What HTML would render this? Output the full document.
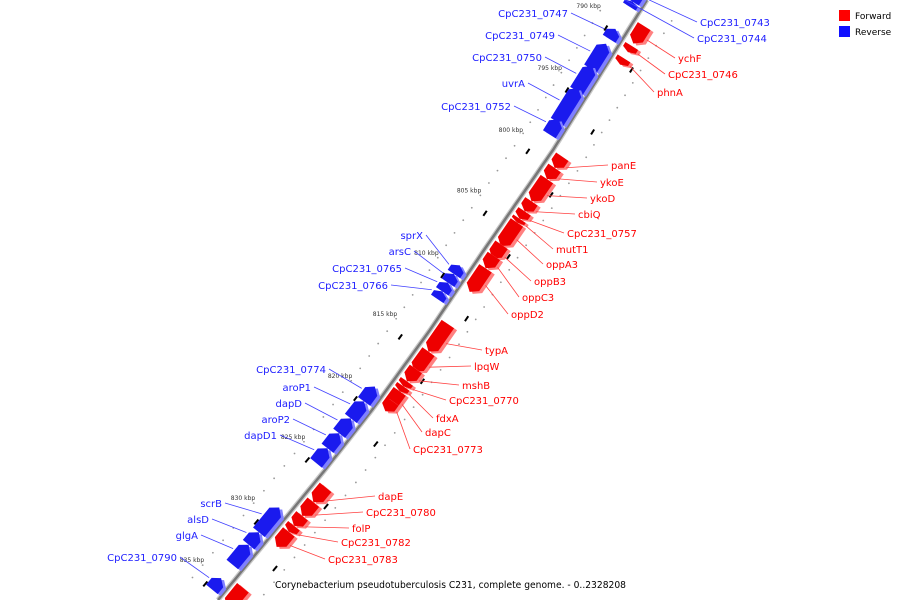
<!DOCTYPE html>
<html><head><meta charset="utf-8"><style>
html,body{margin:0;padding:0;background:#fff;width:900px;height:600px;overflow:hidden}
svg{display:block;overflow:hidden}
svg text{font-family:"DejaVu Sans","Liberation Sans",sans-serif}
</style></head><body>
<svg id="map" width="900" height="600" viewBox="0 0 900 600" xmlns="http://www.w3.org/2000/svg">
<g id="legend">
<rect x="839" y="10" width="11" height="11" fill="#ff0000"/>
<text x="855" y="19" font-size="9" fill="#000">Forward</text>
<rect x="839" y="26" width="11" height="11" fill="#1010ff"/>
<text x="855" y="35" font-size="9" fill="#000">Reverse</text>
</g>
<text x="275" y="588" font-size="9.5" textLength="351" lengthAdjust="spacingAndGlyphs" fill="#000">Corynebacterium pseudotuberculosis C231, complete genome. - 0..2328208</text>
</svg>
<script>
// Data
const geneNames=["CpC231_0743","CpC231_0744","CpC231_0747","CpC231_0749","CpC231_0750","uvrA","CpC231_0752",
"ychF","CpC231_0746","phnA",
"panE","ykoE","ykoD","cbiQ","CpC231_0757","mutT1","oppA3","oppB3","oppC3","oppD2",
"sprX","arsC","CpC231_0765","CpC231_0766",
"typA","lpqW","mshB","CpC231_0770","fdxA","dapC","CpC231_0773",
"CpC231_0774","aroP1","dapD","aroP2","dapD1",
"dapE","CpC231_0780","folP","CpC231_0782","CpC231_0783",
"scrB","alsD","glgA","CpC231_0790","next_fwd"];
const geneStart=[787.6,788.6,790.8,792.0,793.8,795.6,798.1, 789.6,791.2,792.2, 800.1,801.0,801.9,803.7,804.5,805.1,805.4,807.2,808.1,809.1, 809.9,810.6,811.3,812.0, 813.6,815.8,817.2,818.2,818.6,819.0,819.8, 819.7,820.9,822.3,823.5,824.7, 826.7,827.9,829.0,829.8,830.3, 829.5,831.5,832.5,835.2,834.8];
const geneEnd=[788.6,789.0,791.6,794.0,795.8,798.3,799.3, 791.0,791.7,792.7, 801.0,801.9,803.7,804.5,805.1,805.4,807.3,808.3,809.1,811.0, 810.6,811.3,812.0,812.6, 815.8,817.4,818.2,818.6,819.0,820.2,820.6, 820.9,822.3,823.5,824.7,825.9, 827.9,829.0,829.8,830.3,831.5, 831.5,832.5,834.1,836.1,836.4];
const geneStrand=[-1,-1,-1,-1,-1,-1,-1, 1,1,1, 1,1,1,1,1,1,1,1,1,1, -1,-1,-1,-1, 1,1,1,1,1,1,1, -1,-1,-1,-1,-1, 1,1,1,1,1, -1,-1,-1,-1,1];
const geneLabelX=[700,697,568,555,542,525,511, 678,668,657, 611,600,590,578,567,556,546,534,522,511, 423,411,402,388, 485,474,462,449,436,425,413, 326,311,302,290,277, 378,366,352,341,328, 222,209,198,177,null];
const geneLabelY=[26,42,17,39,61,87,110, 62,78,96, 169,186,202,218,237,253,268,285,301,318, 239,255,272,289, 354,370,389,404,422,436,453, 373,391,407,423,439, 500,516,532,546,563, 507,523,539,561,null];
const geneLabelAnchor=["start","start","end","end","end","end","end", "start","start","start", "start","start","start","start","start","start","start","start","start","start", "end","end","end","end", "start","start","start","start","start","start","start", "end","end","end","end","end", "start","start","start","start","start", "end","end","end","end",null];
const tickKbp=[790,795,800,805,810,815,820,825,830,835];

const svg=document.getElementById('map');
const NS='http://www.w3.org/2000/svg';
const LP=[[0,647],[150,553],[250,484],[330,430],[410,372],[470,325],[600,218]];
function yOf(k){return 25+(k-790)*12.4;}
function xOf(y){
  for(let i=0;i<LP.length-1;i++){const a=LP[i],b=LP[i+1];
    if(y<=b[0]||i===LP.length-2){const t=(y-a[0])/(b[0]-a[0]);return a[1]+t*(b[1]-a[1]);}}
}
function pt(k,off){const y=yOf(k),x=xOf(y);const dx=xOf(y+1)-x,dy=1,l=Math.hypot(dx,dy);
  const nx=dy/l,ny=-dx/l;return [x+nx*off,y+ny*off];}
function mk(tag,attrs){const e=document.createElementNS(NS,tag);for(const k in attrs)e.setAttribute(k,attrs[k]);return e;}

let d='';for(let y=0;y<=600;y+=5){d+=(y===0?'M':'L')+xOf(y).toFixed(1)+','+y+' ';}
const bb2=mk('path',{d:d,stroke:'#c8c8c8','stroke-width':5,fill:'none'});


svg.appendChild(bb2);
const bb=mk('path',{d:d,stroke:'#777','stroke-width':2.5,fill:'none'});


svg.appendChild(bb);

for(let k=788;k<=836;k+=1){
  [[-34],[32]].forEach(o=>{const p=pt(k+0.3,o[0]);
    if(p[1]<0||p[1]>600)return;
    const c=mk('circle',{cx:p[0],cy:p[1],r:0.9,fill:'#999'});
    
    
    svg.appendChild(c);});
}
tickKbp.forEach(k=>{
  const a=pt(k+0.9,-20),b=pt(k+1.3,-20);
  const l=mk('line',{x1:a[0],y1:a[1],x2:b[0],y2:b[1],stroke:'#000','stroke-width':2});
  
  
  svg.appendChild(l);
  const a2=pt(k+2.4,24),b2=pt(k+2.8,24);
  const l2=mk('line',{x1:a2[0],y1:a2[1],x2:b2[0],y2:b2[1],stroke:'#000','stroke-width':2});
  
  
  svg.appendChild(l2);
  const p=pt(k,-36);
  const t=mk('text',{x:p[0],y:p[1]+2,'font-size':6,'text-anchor':'end',fill:'#333'});
  t.textContent=k+' kbp';
  
  
  svg.appendChild(t);
});

geneNames.forEach((nm,i)=>{
  const s=geneStrand[i],k0=geneStart[i],k1=geneEnd[i];
  const col=s>0?'#ee0000':'#1a1aee',lt=s>0?'#ff8080':'#8080ff';
  const i0=4,o0=19;
  const len=k1-k0,head=Math.min(0.4,len*0.4);
  let pts;
  if(s>0){const p1=pt(k0,i0),p2=pt(k0,o0),p3=pt(k1-head,o0),p4=pt(k1,(i0+o0)/2),p5=pt(k1-head,i0);pts=[p1,p2,p3,p4,p5];}
  else{const p1=pt(k1,-i0),p2=pt(k1,-o0),p3=pt(k0+head,-o0),p4=pt(k0,-(i0+o0)/2),p5=pt(k0+head,-i0);pts=[p1,p2,p3,p4,p5];}
  const g=mk('g',{});
  
  
  const sh=mk('polygon',{points:pts.map(p=>(p[0]+3)+','+(p[1]+2)).join(' '),fill:lt});
  
  
  g.appendChild(sh);
  const pg=mk('polygon',{points:pts.map(p=>p[0]+','+p[1]).join(' '),fill:col});
  
  
  g.appendChild(pg);
  svg.appendChild(g);
  if(geneLabelX[i]!==null&&nm!=="next_fwd"){
    const tx=geneLabelX[i],ty=geneLabelY[i],an=geneLabelAnchor[i];
    const tcol=s>0?'#ff0000':'#2020ff',lcol=s>0?'#ff4040':'#4040ff';
    const tg=pt((k0+k1)/2,s*(o0+2));
    const lx=an==='end'?tx+3:tx-3;
    const ln=mk('line',{x1:lx,y1:ty-4,x2:tg[0],y2:tg[1],stroke:lcol,'stroke-width':0.8});
    
    
    svg.appendChild(ln);
    const t=mk('text',{x:tx,y:ty,'font-size':10,'text-anchor':an,fill:tcol});
    t.textContent=nm;
    
    
    svg.appendChild(t);
  }
});
</script>
</body></html>
